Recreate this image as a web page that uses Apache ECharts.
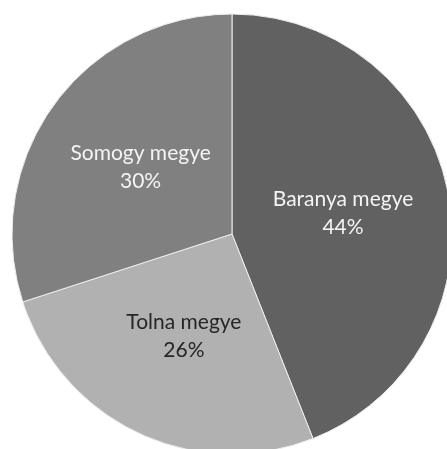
<!DOCTYPE html>
<html>
<head>
<meta charset="utf-8">
<script src="https://cdn.jsdelivr.net/npm/echarts@6/dist/echarts.min.js"></script>
<style>
  html, body { margin: 0; padding: 0; background: #fff; }
  #chart { width: 447px; height: 449px; }
</style>
</head>
<body>
<div id="chart"></div>
<script>
// megyék és arányok (%)
const names = ['Baranya megye', 'Tolna megye', 'Somogy megye'];
const values = [44, 26, 30];
const colors = ['#616161', '#b1b1b1', '#808080'];
const labelColors = ['#f4f4f4', '#262626', '#f4f4f4'];

const chart = echarts.init(document.getElementById('chart'), null, { renderer: 'canvas' });

const data = names.map((n, i) => ({
  name: n,
  value: values[i],
  itemStyle: { color: colors[i] },
  label: { color: labelColors[i] }
}));

chart.setOption({
  backgroundColor: '#fff',
  animation: false,
  series: [
    {
      type: 'pie',
      center: [232, 234],
      radius: [0, 220],
      startAngle: 90,
      clockwise: true,
      silent: true,
      itemStyle: { borderColor: '#eeeeee', borderWidth: 1 },
      label: {
        show: true,
        position: 'inside',
        fontFamily: 'Lato',
        fontSize: 21,
        lineHeight: 28,
        formatter: p => p.name + '\n' + p.value + '%'
      },
      labelLine: { show: false },
      data: data
    }
  ]
});
</script>
</body>
</html>
